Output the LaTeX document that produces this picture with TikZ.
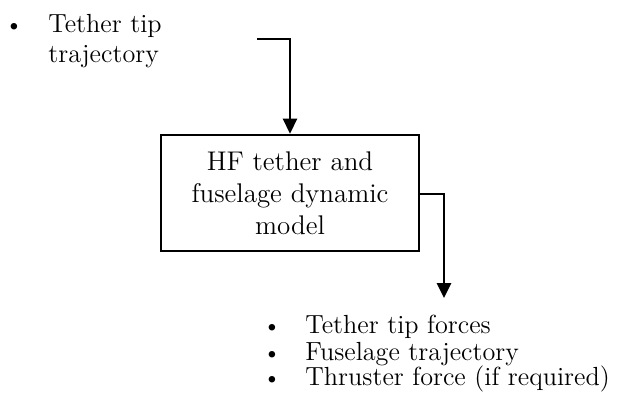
\documentclass[tikz,border=0pt]{standalone}
\usetikzlibrary{arrows.meta}
\begin{document}
\begin{tikzpicture}[x=0.5pt,y=-0.5pt,
  txt/.style={inner sep=0pt,anchor=base west,font=\fontsize{13.1}{16}\selectfont},
  bul/.style={inner sep=0pt,anchor=base,font=\fontsize{12}{16}\selectfont},
  flow/.style={line width=1.3pt,-{Triangle[length=7.5pt,width=7pt]}},
  blk/.style={draw,line width=1.3pt,minimum width=129pt,minimum height=58pt,inner sep=0pt,align=center,font=\fontsize{13.5}{16}\selectfont}]
\useasboundingbox (0,0) rectangle (617,402);
% input text
\node[bul] (b0) at (14,32) {\textbullet};
\node[txt] (in1) at (48,32) {Tether tip};
\node[txt] (in2) at (48,62) {trajectory};
% block
\node[blk] (m) at (290,193) {HF tether and\\fuselage dynamic\\model};
% arrows
\coordinate (s) at (257,39);
\coordinate (t) at (444,298);
\draw[flow] (s) -| (m.north);
\draw[flow] (m.east |- 0,194) -| (t);
% outputs
\node[bul] (b1) at (272,333) {\textbullet};
\node[txt] (o1) at (305,333) {Tether tip forces};
\node[bul] (b2) at (272,360) {\textbullet};
\node[txt] (o2) at (305,360) {Fuselage trajectory};
\node[bul] (b3) at (272,385) {\textbullet};
\node[txt] (o3) at (305,385) {Thruster force (if required)};
\end{tikzpicture}
\end{document}
